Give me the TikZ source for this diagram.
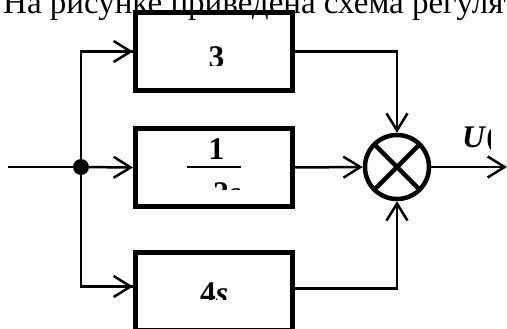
\documentclass[tikz,border=0pt]{standalone}
\usepackage{fontspec}
\setmainfont{Liberation Serif}
\usetikzlibrary{arrows.meta,positioning,calc}

\begin{document}
\begin{tikzpicture}[
  x=1pt,y=-1pt,
  >={Straight Barb[length=17pt,width=21pt,line width=2.5pt]},
  block/.style={rectangle,draw,line width=5pt,minimum width=157pt,
                minimum height=78pt,inner sep=0pt},
  summer/.style={circle,draw,line width=4.5pt,minimum size=64pt,inner sep=0pt},
  junction/.style={circle,fill,minimum size=16pt,inner sep=0pt},
  wire/.style={line width=2.5pt},
  lbl/.style={font=\fontsize{31.5}{32}\selectfont\bfseries,inner sep=0pt}
]
\useasboundingbox (0,0) rectangle (507,329);
\clip (0,0) rectangle (507,329);
%% Текст над схемой
\node[anchor=base west,inner sep=0pt,font=\fontsize{33}{34}\selectfont]
  (head) at (3,14) {На рисунке приведена схема регулятора};
%% Блоки
\node[block]  (box3) at (214,51.5)  {};
\node[block]  (box1) at (214,167.5) {};
\node[block]  (box4) at (214,291.5) {};
\node[summer] (sum)  at (397,167)   {};
\node[junction] (dot) at (81,167)   {};
\coordinate (in)  at (8,167);
\coordinate (out) at (507,167);
%% Подписи
\begin{scope}
  \clip (150,20) rectangle (280,66);
  \node[lbl,anchor=base] (k3) at (216.5,68) {3};
\end{scope}
\begin{scope}
  \clip (150,130) rectangle (280,190);
  \node[inner sep=0pt] (bar) at (214,167) {\rule{54pt}{2pt}};
  \node[lbl,anchor=base] (num) at (216.5,160) {1};
  \node[lbl,anchor=base west] (den) at (213,204) {2\textit{s}};
\end{scope}
\begin{scope}
  \clip (150,260) rectangle (280,299);
  \node[lbl,anchor=base west] (k4) at (200,303) {4\textit{s}};
\end{scope}
\begin{scope}
  \clip (440,110) rectangle (490,150);
  \node[lbl,anchor=base west] (yout) at (462,148) {\textit{U}(\textit{t})};
\end{scope}
%% Соединения
\draw[wire] (in) -- (dot);
\draw[wire] (dot) |- (box3.west);
\draw[wire] (dot) |- ([yshift=5pt]box4.west);
\draw[wire,->] (box3.west -| dot) -- (box3.west);
\draw[wire,->] (dot) -- (box1.west);
\draw[wire,->] ([yshift=5pt]box4.west -| dot) -- ([yshift=5pt]box4.west);
\draw[wire,->] (box3.east) -| (sum.north);
\draw[wire,->] (box1.east) -- (sum.west);
\draw[wire,->] ([yshift=3pt]box4.east) -| (sum.south);
\draw[wire,->] (sum.east) -- (out);
%% Крест в сумматоре
\draw[line width=4.5pt] (sum.north east) -- (sum.south west);
\draw[line width=4.5pt] (sum.north west) -- (sum.south east);
\end{tikzpicture}
\end{document}
